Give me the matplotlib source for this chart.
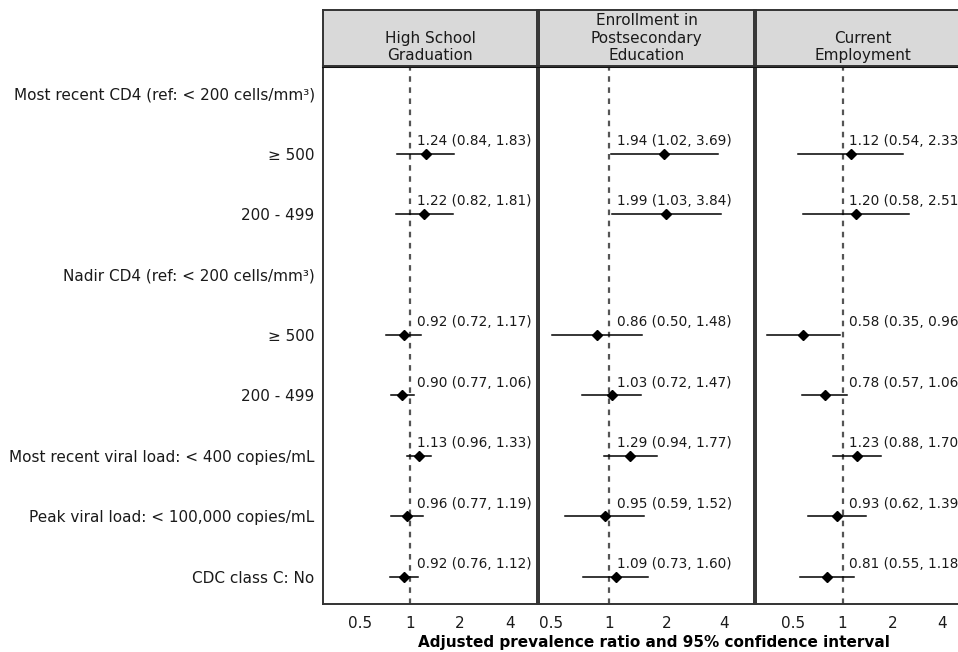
import numpy as np
import matplotlib
matplotlib.use("Agg")
import matplotlib.pyplot as plt

# rows (top to bottom)
row_labels = [
    "Most recent CD4 (ref: < 200 cells/mm\u00b3)",
    "\u2265 500",
    "200 - 499",
    "Nadir CD4 (ref: < 200 cells/mm\u00b3)",
    "\u2265 500",
    "200 - 499",
    "Most recent viral load: < 400 copies/mL",
    "Peak viral load: < 100,000 copies/mL",
    "CDC class C: No",
]
data_rows = [1, 2, 4, 5, 6, 7, 8]

panels = ["High School\nGraduation",
          "Enrollment in\nPostsecondary\nEducation",
          "Current\nEmployment"]

hs_est = [1.24, 1.22, 0.92, 0.90, 1.13, 0.96, 0.92]
hs_lo = [0.84, 0.82, 0.72, 0.77, 0.96, 0.77, 0.76]
hs_hi = [1.83, 1.81, 1.17, 1.06, 1.33, 1.19, 1.12]

ed_est = [1.94, 1.99, 0.86, 1.03, 1.29, 0.95, 1.09]
ed_lo = [1.02, 1.03, 0.50, 0.72, 0.94, 0.59, 0.73]
ed_hi = [3.69, 3.84, 1.48, 1.47, 1.77, 1.52, 1.60]

em_est = [1.12, 1.20, 0.58, 0.78, 1.23, 0.93, 0.81]
em_lo = [0.54, 0.58, 0.35, 0.57, 0.88, 0.62, 0.55]
em_hi = [2.33, 2.51, 0.96, 1.06, 1.70, 1.39, 1.18]

ticks = [0.5, 1, 2, 4]
tick_labels = ["0.5", "1", "2", "4"]

series = [(hs_est, hs_lo, hs_hi), (ed_est, ed_lo, ed_hi), (em_est, em_lo, em_hi)]
xlims = [(0.30, 5.8), (0.43, 5.7), (0.30, 5.8)]

W, H = 958, 652
fig = plt.figure(figsize=(W / 100, H / 100), dpi=100)

lefts = [323, 539, 756]
widths = [214, 215, 213]
top_px, bot_px = 66, 604
strip_top = 10
edge = "#333333"

for i in range(3):
    l = lefts[i] / W
    w = widths[i] / W
    ax = fig.add_axes([l, 1 - bot_px / H, w, (bot_px - top_px) / H])
    est, lo, hi = series[i]
    ax.set_xscale("log")
    ax.set_xlim(*xlims[i])
    ax.set_ylim(8.45, -0.45)
    ax.axvline(1, color="#555555", linestyle=(0, (2.5, 2.5)), linewidth=1.6, zorder=1)
    for k, r in enumerate(data_rows):
        ax.plot([lo[k], hi[k]], [r, r], color="black", linewidth=1.1, zorder=2)
        ax.plot(est[k], r, marker="D", color="black", markersize=5.5, zorder=3)
        ax.text(1.1, r - 0.21, "%.2f (%.2f, %.2f)" % (est[k], lo[k], hi[k]),
                ha="left", va="center", fontsize=9.8, color="#1a1a1a", clip_on=False)
    ax.set_xticks(ticks)
    ax.set_xticklabels(tick_labels)
    ax.xaxis.set_minor_locator(matplotlib.ticker.NullLocator())
    ax.tick_params(axis="x", length=0, pad=9, labelsize=11, labelcolor="#1a1a1a")
    ax.set_yticks(range(len(row_labels)))
    if i == 0:
        ax.set_yticklabels(row_labels)
        ax.tick_params(axis="y", length=0, pad=6, labelsize=11, labelcolor="#1a1a1a")
    else:
        ax.set_yticklabels([])
        ax.tick_params(axis="y", length=0)
    for s in ax.spines.values():
        s.set_color(edge)
        s.set_linewidth(1.4)
    ax.spines["top"].set_color("#111111")
    ax.spines["top"].set_linewidth(2.2)

    sax = fig.add_axes([l, 1 - top_px / H, w, (top_px - strip_top) / H])
    sax.set_facecolor("#d9d9d9")
    sax.set_xticks([])
    sax.set_yticks([])
    for s in sax.spines.values():
        s.set_color(edge)
        s.set_linewidth(1.4)
    sax.text(0.5, 0.05, panels[i], ha="center", va="bottom", fontsize=11,
             color="#1a1a1a", linespacing=1.22, transform=sax.transAxes)

fig.text(654 / W, 1 - 643 / H, "Adjusted prevalence ratio and 95% confidence interval",
         ha="center", va="center", fontsize=11, fontweight="bold")

fig.savefig("out.png", dpi=100)
